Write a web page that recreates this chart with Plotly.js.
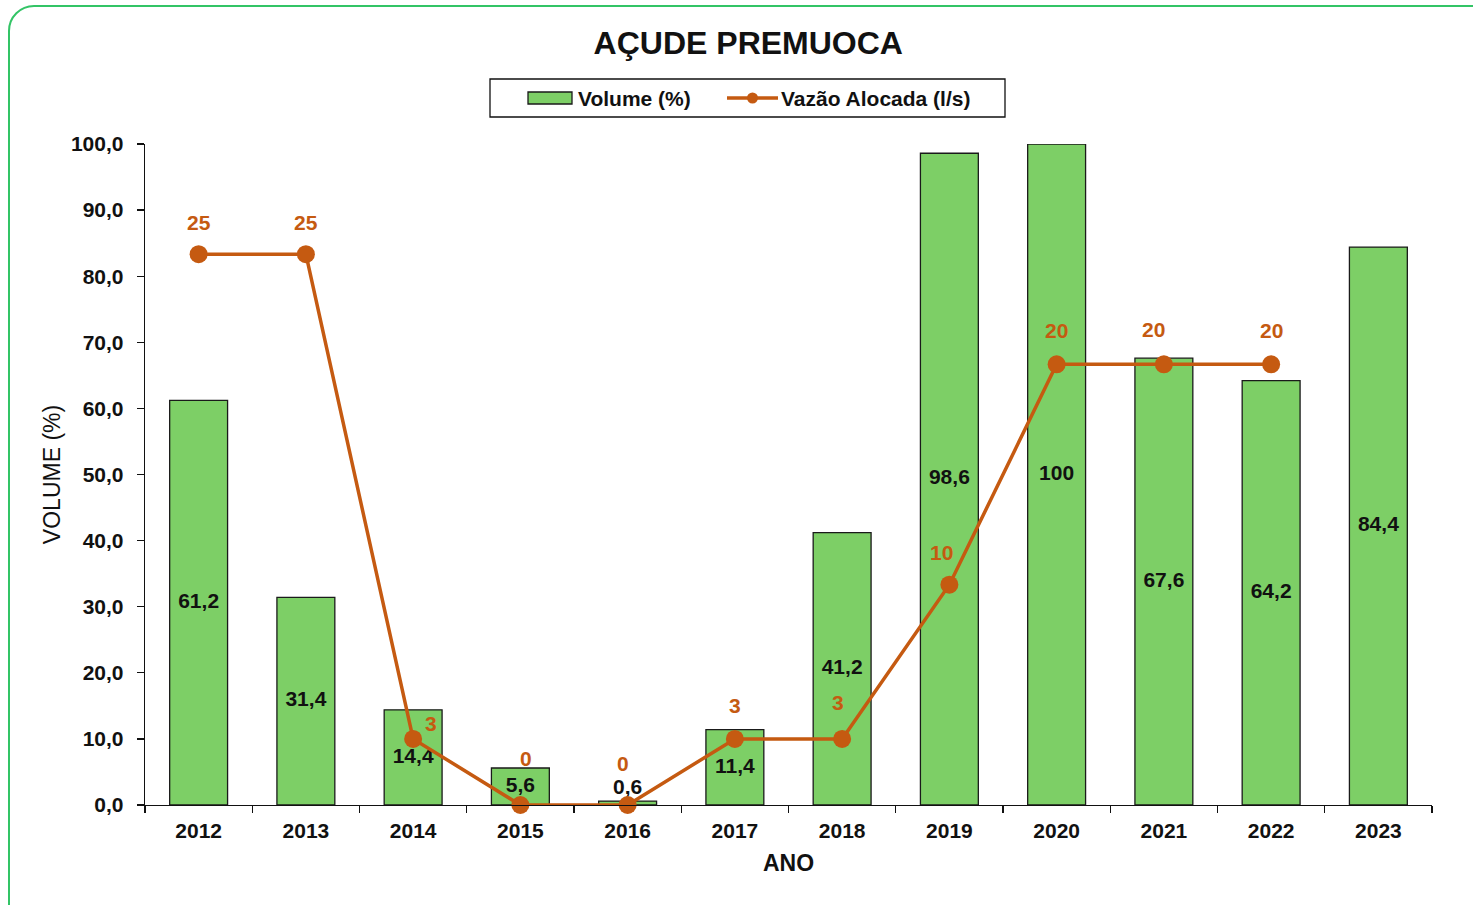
<!DOCTYPE html>
<html>
<head>
<meta charset="utf-8">
<script src="https://cdn.plot.ly/plotly-3.0.1.min.js"></script>
<style>
html,body{margin:0;padding:0;width:1473px;height:905px;overflow:hidden;background:#fff;}
#frame{position:absolute;left:8px;top:5px;width:1520px;height:960px;border:2px solid #33c466;border-radius:26px;box-sizing:border-box;}
#chart{position:absolute;left:0;top:0;width:1473px;height:905px;}
</style>
</head>
<body>
<div id="frame"></div>
<div id="chart"></div>
<script>
const years = ['2012','2013','2014','2015','2016','2017','2018','2019','2020','2021','2022','2023'];
const volume = [61.2, 31.4, 14.4, 5.6, 0.6, 11.4, 41.2, 98.6, 100, 67.6, 64.2, 84.4];
const vazao = [25, 25, 3, 0, 0, 3, 3, 10, 20, 20, 20, null];
const volumeLabels = ['61,2','31,4','14,4','5,6','0,6','11,4','41,2','98,6','100','67,6','64,2','84,4'];
const seriesNames = ['Volume (%)', 'Vazão Alocada (l/s)'];

// label placement styles (pixel offsets)
const vazaoLabelDx = [0, 0, 18, 6, -5, 0, -4, -8, 0, -10, 0, 0];
const vazaoLabelDy = [32, 32, 15, 47, 42, 33, 36, 32, 34, 35, 34, 0];

const FONT = 'Liberation Sans, Arial, sans-serif';
const ORANGE = '#c55a11';
const GREEN = '#7dcf66';
const INK = '#111';

const barTrace = {
  type: 'bar', x: years, y: volume, name: seriesNames[0],
  marker: {color: GREEN, line: {color: '#1a1a1a', width: 1.3}},
  showlegend: false, hoverinfo: 'x+y'
};
const barLabelTrace = {
  type: 'scatter', mode: 'text', x: years,
  y: volume.map(v => Math.max(v / 2, 2.5)),
  text: volumeLabels, textposition: 'middle center',
  textfont: {family: FONT, size: 21, color: INK},
  showlegend: false, hoverinfo: 'skip'
};
const lineTrace = {
  type: 'scatter', mode: 'lines+markers', x: years, y: vazao, yaxis: 'y2',
  name: seriesNames[1],
  line: {color: ORANGE, width: 3.5},
  marker: {color: ORANGE, size: 18},
  connectgaps: false, cliponaxis: false, showlegend: false
};

const annotations = [];
vazao.forEach((v, i) => {
  if (v === null) return;
  annotations.push({
    x: i, y: v, xref: 'x', yref: 'y2', text: '<b>' + v + '</b>',
    showarrow: false, xshift: vazaoLabelDx[i], yshift: vazaoLabelDy[i],
    font: {family: FONT, size: 21, color: ORANGE}
  });
});

// manual legend (paper coordinates relative to plot area)
const px = x => (x - 145) / 1287;
const py = y => (805 - y) / 661;
const legY = py(98);
annotations.push(
  {xref: 'paper', yref: 'paper', x: px(576), y: legY, xanchor: 'left', yanchor: 'middle',
   text: '<b>' + seriesNames[0] + '</b>', showarrow: false, font: {family: FONT, size: 21, color: INK}},
  {xref: 'paper', yref: 'paper', x: px(779), y: legY, xanchor: 'left', yanchor: 'middle',
   text: '<b>' + seriesNames[1] + '</b>', showarrow: false, font: {family: FONT, size: 21, color: INK}}
);
const shapes = [
  {type: 'rect', xref: 'paper', yref: 'paper', x0: px(490), x1: px(1005), y0: py(117), y1: py(79),
   line: {color: INK, width: 1.3}, fillcolor: '#fff'},
  {type: 'rect', xref: 'paper', yref: 'paper', x0: px(528), x1: px(572), y0: py(104), y1: py(92),
   line: {color: '#1a1a1a', width: 1.3}, fillcolor: GREEN},
  {type: 'line', xref: 'paper', yref: 'paper', x0: px(727), x1: px(778), y0: legY, y1: legY,
   line: {color: ORANGE, width: 3.5}},
  {type: 'circle', xref: 'paper', yref: 'paper', xsizemode: 'pixel', ysizemode: 'pixel',
   xanchor: px(752.5), yanchor: legY, x0: -5.5, x1: 5.5, y0: -5.5, y1: 5.5,
   line: {color: ORANGE, width: 0}, fillcolor: ORANGE}
];

const layout = {
  width: 1473, height: 905,
  paper_bgcolor: 'rgba(0,0,0,0)', plot_bgcolor: 'rgba(0,0,0,0)',
  margin: {l: 145, r: 41, t: 144, b: 100},
  separators: ',.',
  font: {family: FONT, color: INK},
  title: {text: '<b>AÇUDE PREMUOCA</b>', x: 0.508, xanchor: 'center', y: 0.953, yanchor: 'middle',
          font: {family: FONT, size: 32, color: INK}},
  bargap: 0.46,
  showlegend: false,
  xaxis: {
    type: 'category', range: [-0.5, 11.5], autorange: false,
    showgrid: false, zeroline: false,
    showline: true, linecolor: INK, linewidth: 1.3,
    ticks: 'outside', ticklen: 7, tickcolor: INK, tickwidth: 1.3,
    tickson: 'boundaries', tickangle: 0, ticklabelstandoff: 6,
    tickfont: {family: FONT, size: 21, color: INK},
    title: {text: '<b>ANO</b>', font: {family: FONT, size: 23, color: INK}, standoff: 14}
  },
  yaxis: {
    range: [0, 100], autorange: false, dtick: 10, tickformat: '.1f',
    showgrid: false, zeroline: false,
    showline: true, linecolor: INK, linewidth: 1.3,
    ticks: 'outside', ticklen: 7, tickcolor: INK, tickwidth: 1.3, ticklabelstandoff: 9,
    tickfont: {family: FONT, size: 21, color: INK},
    title: {text: 'VOLUME (%)', font: {family: FONT, size: 23, color: INK}, standoff: 4}
  },
  yaxis2: {range: [0, 30], autorange: false, overlaying: 'y', side: 'right', visible: false, showgrid: false, zeroline: false},
  annotations: annotations,
  shapes: shapes
};

Plotly.newPlot('chart', [barTrace, lineTrace, barLabelTrace], layout, {displayModeBar: false, staticPlot: true}).then(() => {
  document.querySelectorAll('.xtick text, .ytick text').forEach(t => t.style.fontWeight = 'bold');
  document.querySelectorAll('.textpoint text').forEach(t => t.style.fontWeight = 'bold');
});
</script>
</body>
</html>
